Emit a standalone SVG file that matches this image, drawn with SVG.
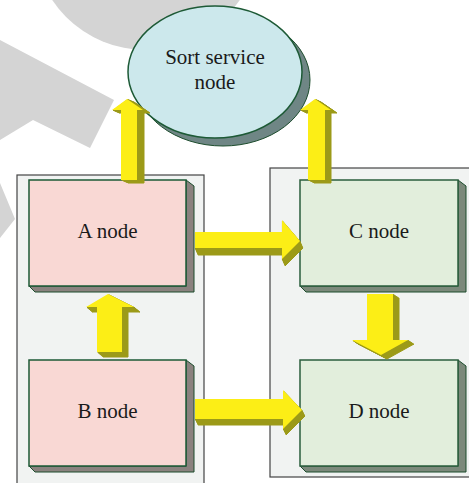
<svg xmlns="http://www.w3.org/2000/svg" xmlns:xlink="http://www.w3.org/1999/xlink" width="469" height="483" viewBox="0 0 469 483">
<style>
.wm{fill:#d4d4d4}
.box{fill:#f1f3f2;stroke:#444;stroke-width:1.2}
.pink{fill:#f9d8d4;stroke:#1d5a36;stroke-width:1.5}
.pinkside{fill:#8b827f;stroke:#1d4d2d;stroke-width:1}
.green{fill:#e2eedc;stroke:#2a5e3c;stroke-width:1.5}
.greenside{fill:#7c897b;stroke:#1d4d2d;stroke-width:1}
.lbl{font-family:"Liberation Serif","Times New Roman",serif;font-size:21px;fill:#1a1a1a;text-anchor:middle}
.dark{fill:#9c9a18;stroke:#9c9a18;stroke-width:1}
.front{fill:#fcee16}
</style>
<defs>
<polygon id="aUp1" points="121,180 121,110 112,110 127,99 143,110 137,110 137,180"/>
<polygon id="aUp2" points="308,180 308,110 300,110 315,99 331,110 325,110 325,180"/>
<polygon id="aR1" points="195,232 282,232 282,220 300,241 282,259 282,248 195,248"/>
<polygon id="aR2" points="195,399 283,399 283,390 302,410 283,429 283,419 195,419"/>
<polygon id="aUp3" points="97,352 97,307 86,307 108,294 134,307 122,307 122,352"/>
<polygon id="aDown" points="367,294 393,294 393,340 408,340 381,355 352,340 367,340"/>
</defs>

<g id="watermark">
<circle class="wm" cx="146" cy="-63" r="113"/>
<polygon class="wm" points="0,40 114,100 90,148 33,120 0,140"/>
<polygon class="wm" points="0,183 15,219 0,238"/>
</g>

<g id="containers">
<rect class="box" x="17" y="175" width="187" height="320"/>
<rect class="box" x="270" y="168" width="210" height="309"/>
</g>

<g id="sort">
<ellipse cx="223" cy="80" rx="87" ry="66" fill="#6f8685" stroke="#1d4d2d" stroke-width="1"/>
<ellipse cx="215" cy="72" rx="87" ry="66" fill="#cce8ec" stroke="#1d5a36" stroke-width="1.5"/>
<text class="lbl" x="215" y="64">Sort service</text>
<text class="lbl" x="215" y="89">node</text>
</g>

<g id="nodeA">
<polygon class="pinkside" points="186,180 194,186 194,292 35,292 29,286 186,286"/>
<rect class="pink" x="29" y="180" width="157" height="106"/>
<text class="lbl" x="107.5" y="238">A node</text>
</g>

<g id="nodeB">
<polygon class="pinkside" points="186,360 194,366 194,472 35,472 29,466 186,466"/>
<rect class="pink" x="29" y="360" width="157" height="106"/>
<text class="lbl" x="107.5" y="418">B node</text>
</g>

<g id="nodeC">
<polygon class="greenside" points="458,180 466,186 466,292 306,292 300,286 458,286"/>
<rect class="green" x="300" y="180" width="158" height="106"/>
<text class="lbl" x="379" y="238">C node</text>
</g>

<g id="nodeD">
<polygon class="greenside" points="458,360 466,366 466,472 306,472 300,466 458,466"/>
<rect class="green" x="300" y="360" width="158" height="106"/>
<text class="lbl" x="379" y="418">D node</text>
</g>

<g id="connectors">
<g id="arrowAtoSort">
<use class="dark" xlink:href="#aUp1" transform="translate(1,0.43)"/>
<use class="dark" xlink:href="#aUp1" transform="translate(2,0.86)"/>
<use class="dark" xlink:href="#aUp1" transform="translate(3,1.29)"/>
<use class="dark" xlink:href="#aUp1" transform="translate(4,1.71)"/>
<use class="dark" xlink:href="#aUp1" transform="translate(5,2.14)"/>
<use class="dark" xlink:href="#aUp1" transform="translate(6,2.57)"/>
<use class="dark" xlink:href="#aUp1" transform="translate(7,3)"/>
<use class="front" xlink:href="#aUp1"/>
</g>
<g id="arrowCtoSort">
<use class="dark" xlink:href="#aUp2" transform="translate(1,0.5)"/>
<use class="dark" xlink:href="#aUp2" transform="translate(2,1)"/>
<use class="dark" xlink:href="#aUp2" transform="translate(3,1.5)"/>
<use class="dark" xlink:href="#aUp2" transform="translate(4,2)"/>
<use class="dark" xlink:href="#aUp2" transform="translate(5,2.5)"/>
<use class="dark" xlink:href="#aUp2" transform="translate(6,3)"/>
<use class="front" xlink:href="#aUp2"/>
</g>
<g id="arrowAtoC">
<use class="dark" xlink:href="#aR1" transform="translate(0.43,1)"/>
<use class="dark" xlink:href="#aR1" transform="translate(0.86,2)"/>
<use class="dark" xlink:href="#aR1" transform="translate(1.29,3)"/>
<use class="dark" xlink:href="#aR1" transform="translate(1.71,4)"/>
<use class="dark" xlink:href="#aR1" transform="translate(2.14,5)"/>
<use class="dark" xlink:href="#aR1" transform="translate(2.57,6)"/>
<use class="dark" xlink:href="#aR1" transform="translate(3,7)"/>
<use class="front" xlink:href="#aR1"/>
</g>
<g id="arrowBtoD">
<use class="dark" xlink:href="#aR2" transform="translate(0.5,1)"/>
<use class="dark" xlink:href="#aR2" transform="translate(1,2)"/>
<use class="dark" xlink:href="#aR2" transform="translate(1.5,3)"/>
<use class="dark" xlink:href="#aR2" transform="translate(2,4)"/>
<use class="dark" xlink:href="#aR2" transform="translate(2.5,5)"/>
<use class="dark" xlink:href="#aR2" transform="translate(3,6)"/>
<use class="front" xlink:href="#aR2"/>
</g>
<g id="arrowBtoA">
<use class="dark" xlink:href="#aUp3" transform="translate(1,0.83)"/>
<use class="dark" xlink:href="#aUp3" transform="translate(2,1.67)"/>
<use class="dark" xlink:href="#aUp3" transform="translate(3,2.5)"/>
<use class="dark" xlink:href="#aUp3" transform="translate(4,3.33)"/>
<use class="dark" xlink:href="#aUp3" transform="translate(5,4.17)"/>
<use class="dark" xlink:href="#aUp3" transform="translate(6,5)"/>
<use class="front" xlink:href="#aUp3"/>
</g>
<g id="arrowCtoD">
<use class="dark" xlink:href="#aDown" transform="translate(1,0.67)"/>
<use class="dark" xlink:href="#aDown" transform="translate(2,1.33)"/>
<use class="dark" xlink:href="#aDown" transform="translate(3,2)"/>
<use class="dark" xlink:href="#aDown" transform="translate(4,2.67)"/>
<use class="dark" xlink:href="#aDown" transform="translate(5,3.33)"/>
<use class="dark" xlink:href="#aDown" transform="translate(6,4)"/>
<use class="front" xlink:href="#aDown"/>
</g>
</g>
</svg>
